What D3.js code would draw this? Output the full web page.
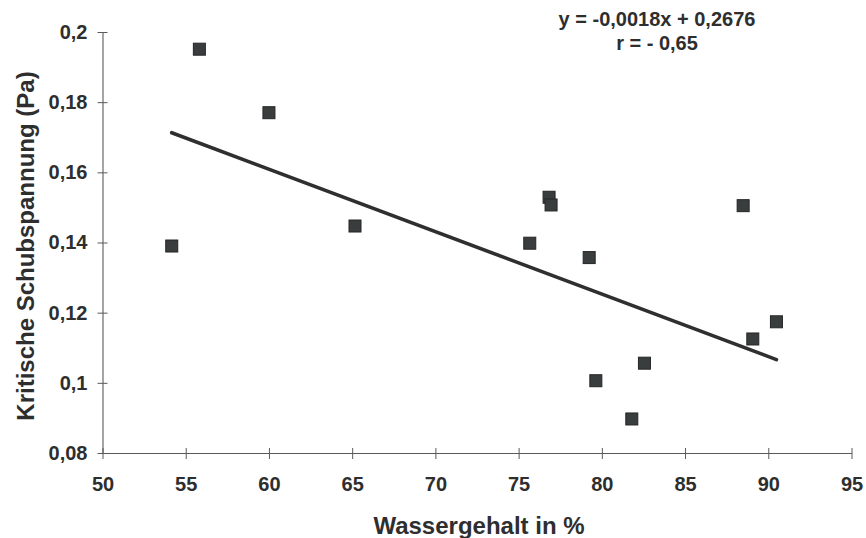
<!DOCTYPE html>
<html>
<head>
<meta charset="utf-8">
<script src="https://cdn.jsdelivr.net/npm/d3@7"></script>
<style>
  body { margin: 0; background: #fff; }
  text { font-family: "Liberation Sans", Arial, sans-serif; font-weight: bold; fill: #2e2e2e; }
</style>
</head>
<body>
<div id="viz-container"></div>
<script>
// data
let waterContent = [54.16, 55.82, 60.0, 65.17, 75.67, 76.83, 76.95, 79.24, 79.64, 81.8, 82.56, 88.49, 89.07, 90.49];
let shearStress  = [0.139, 0.1951, 0.177, 0.1447, 0.1398, 0.1529, 0.1507, 0.1357, 0.1006, 0.0897, 0.1056, 0.1505, 0.1125, 0.1174];
let xTicks = [50, 55, 60, 65, 70, 75, 80, 85, 90, 95];
let yTicks = [0.08, 0.1, 0.12, 0.14, 0.16, 0.18, 0.2];
let trendSlope = -0.00178;
let trendIntercept = 0.2677;
let equationText = ["y = -0,0018x + 0,2676", "r = - 0,65"];

let points = waterContent.map((x, i) => ({x: x, y: shearStress[i]}));

let viz = d3.select("#viz-container")
              .append("svg")
                .attr("width", 866)
                .attr("height", 538)
;

let x = d3.scaleLinear().domain([50, 95]).range([102.5, 851.5]);
let y = d3.scaleLinear().domain([0.08, 0.2]).range([453, 32]);

function comma(d){
  return String(+d.toFixed(2)).replace(".", ",");
}

// x axis
let xAxis = viz.append("g")
  .attr("transform", "translate(0,453)")
  .call(d3.axisBottom(x).tickValues(xTicks).tickSize(5).tickSizeOuter(0).tickPadding(19));
xAxis.select(".domain").attr("stroke", "#5a5a5a").attr("stroke-width", 1.1);
xAxis.selectAll(".tick line").attr("y1", -5).attr("y2", 6).attr("stroke", "#5a5a5a");
xAxis.selectAll(".tick text").attr("font-size", 20).attr("fill", "#2e2e2e")
  .attr("font-family", "Liberation Sans, Arial, sans-serif").attr("font-weight", "bold");

// y axis
let yAxis = viz.append("g")
  .attr("transform", "translate(102.5,0)")
  .call(d3.axisLeft(y).tickValues(yTicks).tickFormat(comma).tickSize(5).tickSizeOuter(0).tickPadding(10));
yAxis.select(".domain").attr("stroke", "#5a5a5a").attr("stroke-width", 1.1);
yAxis.selectAll(".tick line").attr("x1", -5).attr("x2", 5).attr("stroke", "#5a5a5a");
yAxis.selectAll(".tick text").attr("font-size", 20).attr("fill", "#2e2e2e")
  .attr("font-family", "Liberation Sans, Arial, sans-serif").attr("font-weight", "bold");

// trend line
let xMin = d3.min(waterContent), xMax = d3.max(waterContent);
viz.append("line")
  .attr("x1", x(xMin)).attr("y1", y(trendSlope * xMin + trendIntercept))
  .attr("x2", x(xMax)).attr("y2", y(trendSlope * xMax + trendIntercept))
  .attr("stroke", "#2f2f2f")
  .attr("stroke-width", 3.6)
  .attr("stroke-linecap", "round");

// markers
let size = 12;
viz.selectAll("rect.pt").data(points).enter().append("rect")
  .attr("class", "pt")
  .attr("x", d => x(d.x) - size / 2)
  .attr("y", d => y(d.y) - size / 2)
  .attr("width", size)
  .attr("height", size)
  .attr("fill", "#3a3d3e")
  .attr("stroke", "#252525")
  .attr("stroke-width", 1);

// equation
viz.selectAll("text.eq").data(equationText).enter().append("text")
  .attr("class", "eq")
  .attr("x", 657)
  .attr("y", (d, i) => 26 + i * 24)
  .attr("text-anchor", "middle")
  .attr("font-size", 20)
  .text(d => d);

// axis titles
viz.append("text")
  .attr("x", 479)
  .attr("y", 534)
  .attr("text-anchor", "middle")
  .attr("font-size", 24)
  .text("Wassergehalt in %");

viz.append("text")
  .attr("transform", "translate(34,246) rotate(-90)")
  .attr("text-anchor", "middle")
  .attr("font-size", 24)
  .text("Kritische Schubspannung (Pa)");
</script>
</body>
</html>
